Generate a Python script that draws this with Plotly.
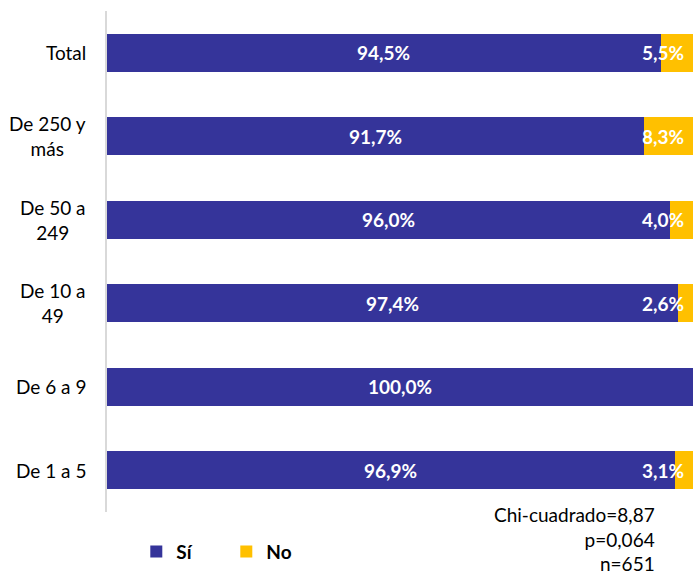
import plotly.graph_objects as go

categories = ["Total", "De 250 y<br>más", "De 50 a<br>249", "De 10 a<br>49", "De 6 a 9", "De 1 a 5"]
si_values = [94.5, 91.7, 96.0, 97.4, 100.0, 96.9]
no_values = [5.5, 8.3, 4.0, 2.6, 0.0, 3.1]
stats_lines = ["Chi-cuadrado=8,87", "p=0,064", "n=651"]

BLUE = "#35349A"
YELLOW = "#FFC000"
FONT = "Lato"

def fmt(v):
    return f"{v:.1f}".replace(".", ",") + "%"

fig = go.Figure()
fig.add_trace(go.Bar(y=categories, x=si_values, name="Sí", orientation="h",
                     marker=dict(color=BLUE, line=dict(width=0)), textposition="none"))
fig.add_trace(go.Bar(y=categories, x=no_values, name="No", orientation="h",
                     marker=dict(color=YELLOW, line=dict(width=0)), textposition="none"))

annotations = []
for cat, s, n in zip(categories, si_values, no_values):
    annotations.append(dict(x=s / 2, y=cat, xref="x", yref="y", text=fmt(s), showarrow=False,
                            font=dict(family=FONT, size=19, color="white", weight="bold")))
    if n > 0:
        cx = min(s + n / 2, 94.8)
        annotations.append(dict(x=cx, y=cat, xref="x", yref="y", text=fmt(n), showarrow=False,
                                font=dict(family=FONT, size=19, color="white", weight="bold")))
    annotations.append(dict(x=0, y=cat, xref="paper", yref="y", text=cat, showarrow=False,
                            xanchor="right", align="center", xshift=-19,
                            font=dict(family=FONT, size=19, color="black")))

annotations.append(dict(x=0.938, y=0.022, xref="paper", yref="paper", xanchor="right", yanchor="top",
                        text="<br>".join(stats_lines), showarrow=False, align="right",
                        font=dict(family=FONT, size=19, color="black")))

fig.update_layout(
    width=696, height=577,
    margin=dict(l=107, r=3, t=11, b=65, autoexpand=False),
    barmode="stack", bargap=0.55,
    plot_bgcolor="white", paper_bgcolor="white",
    xaxis=dict(range=[0, 100], showgrid=False, showticklabels=False, zeroline=False, showline=False),
    yaxis=dict(autorange="reversed", showticklabels=False, showgrid=False, showline=True,
               linecolor="#D9D9D9", linewidth=2, ticks=""),
    legend=dict(orientation="h", x=0.05, y=-0.041, xanchor="left", yanchor="top",
                font=dict(family=FONT, size=19, color="black", weight="bold"),
                itemwidth=30, entrywidth=45, traceorder="normal"),
    annotations=annotations,
    font=dict(family=FONT),
)

fig.write_html("out.html", config={"displayModeBar": False},
               post_script="document.body.style.margin='0';document.body.style.overflow='hidden';")
